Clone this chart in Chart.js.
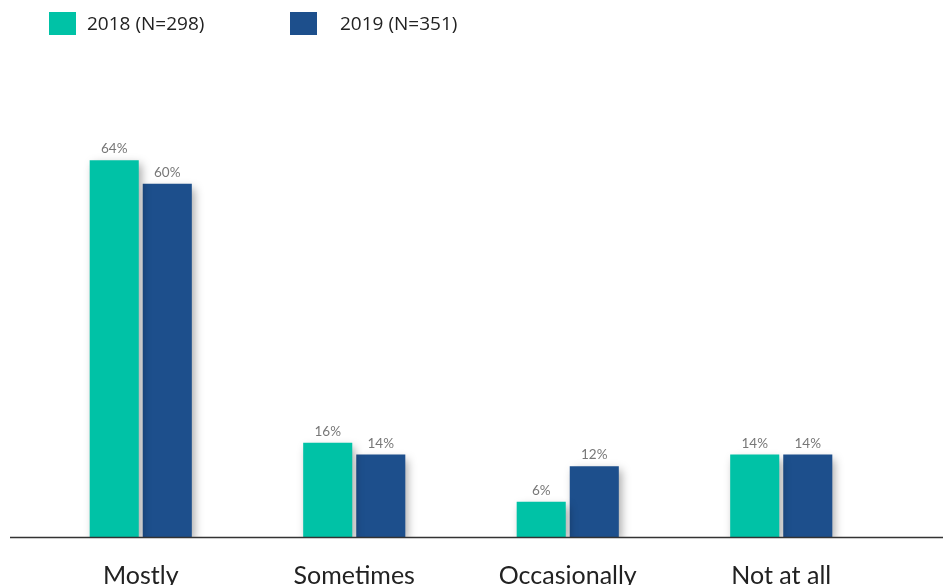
<!DOCTYPE html>
<html>
<head>
<meta charset="utf-8">
<script src="https://cdn.jsdelivr.net/npm/chart.js@4"></script>
<style>
  html, body { margin: 0; padding: 0; background: #fff; overflow: hidden; }
  #wrap { position: relative; width: 943px; height: 620px; }
  #legend { position: absolute; left: 49px; top: 12px; font-family: "Open Sans", sans-serif; font-size: 19px; color: #222; }
  .item { position: absolute; top: 0; white-space: nowrap; }
  .box { position: absolute; left: 0; top: 0; width: 27px; height: 23px; }
  .txt { position: absolute; top: -1px; line-height: 24px; }
</style>
</head>
<body>
<div id="wrap">
  <canvas id="chart"></canvas>
  <div id="legend"></div>
</div>
<script>
const categories = ['Mostly', 'Sometimes', 'Occasionally', 'Not at all'];
const seriesNames = ['2018 (N=298)', '2019 (N=351)'];
const values2018 = [64, 16, 6, 14];
const values2019 = [60, 14, 12, 14];
const colors = ['#00c2a6', '#1d4f8c'];

// legend drawn as html (item positions follow the picture)
const legendEl = document.getElementById('legend');
const itemLeft = [0, 241];
const textGap = [38, 50];
seriesNames.forEach((name, i) => {
    const item = document.createElement('div');
    item.className = 'item';
    item.style.left = itemLeft[i] + 'px';
    item.innerHTML = '<div class="box" style="background:' + colors[i] + '"></div>' +
        '<div class="txt" style="left:' + textGap[i] + 'px">' + name + '</div>';
    legendEl.appendChild(item);
});

// soft drop shadow under the bars
const barShadow = {
    id: 'barShadow',
    beforeDatasetDraw(chart) {
        const ctx = chart.ctx;
        ctx.save();
        ctx.shadowColor = 'rgba(0,0,0,0.35)';
        ctx.shadowBlur = 9;
        ctx.shadowOffsetX = 3;
        ctx.shadowOffsetY = 4;
    },
    afterDatasetDraw(chart) {
        chart.ctx.restore();
    }
};

// value labels above bars + long baseline
const valueLabels = {
    id: 'valueLabels',
    afterDatasetsDraw(chart) {
        const ctx = chart.ctx;
        ctx.save();
        ctx.font = '13.5px Lato, sans-serif';
        ctx.fillStyle = '#777';
        ctx.textAlign = 'center';
        ctx.textBaseline = 'alphabetic';
        chart.data.datasets.forEach((ds, i) => {
            chart.getDatasetMeta(i).data.forEach((bar, j) => {
                ctx.fillText(ds.data[j] + '%', bar.x, bar.y - 7);
            });
        });
        const y0 = Math.round(chart.scales.y.getPixelForValue(0)) + 0.5;
        ctx.strokeStyle = '#333';
        ctx.lineWidth = 1.5;
        ctx.beginPath();
        ctx.moveTo(10, y0);
        ctx.lineTo(chart.width, y0);
        ctx.stroke();
        ctx.restore();
    }
};

new Chart(document.getElementById('chart'), {
    type: 'bar',
    data: {
        labels: categories,
        datasets: [
            { label: seriesNames[0], data: values2018, backgroundColor: colors[0] },
            { label: seriesNames[1], data: values2019, backgroundColor: colors[1] }
        ]
    },
    options: {
        responsive: true,
        maintainAspectRatio: false,
        animation: false,
        categoryPercentage: 0.497,
        barPercentage: 0.925,
        layout: { padding: { left: 34, right: 55, top: 125, bottom: 5 } },
        plugins: {
            legend: { display: false },
            tooltip: { enabled: false }
        },
        scales: {
            x: {
                grid: { display: false, drawTicks: false },
                border: { display: false },
                ticks: {
                    color: '#222',
                    padding: 24,
                    font: { family: 'Lato, sans-serif', size: 25 }
                }
            },
            y: {
                display: false,
                min: 0,
                max: 70
            }
        }
    },
    plugins: [barShadow, valueLabels]
});
</script>
</body>
</html>
